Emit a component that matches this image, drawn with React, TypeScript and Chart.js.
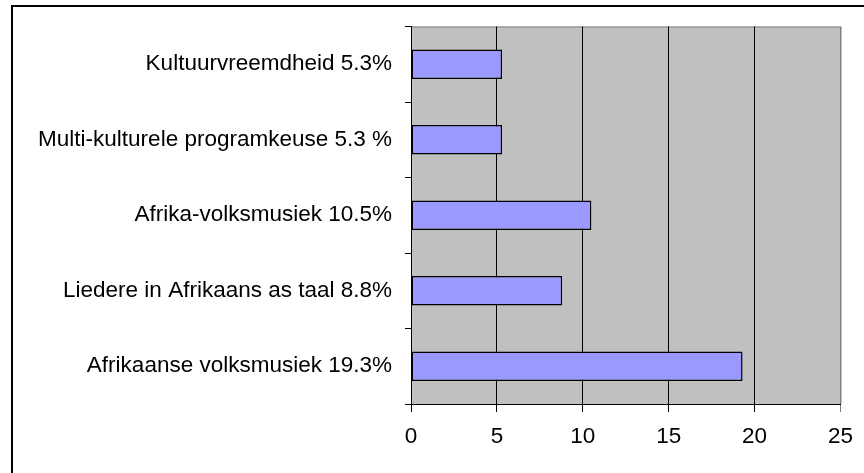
import React, { useEffect, useRef } from "react";
import { Chart, registerables } from "chart.js";

Chart.register(...registerables);

const categories = [
  "Kultuurvreemdheid 5.3%",
  "Multi-kulturele programkeuse 5.3 %",
  "Afrika-volksmusiek 10.5%",
  "Liedere in Afrikaans as taal 8.8%",
  "Afrikaanse volksmusiek 19.3%",
];
const values = [5.3, 5.3, 10.5, 8.8, 19.3];
const xMin = 0;
const xMax = 25;
const xStep = 5;

const FONT = "'Liberation Sans', Arial, Helvetica, sans-serif";

export default function App() {
  const ref = useRef<HTMLCanvasElement | null>(null);

  useEffect(() => {
    if (!ref.current) return;
    const framePlugin = {
      id: "frame",
      beforeDraw(chart: any) {
        const { ctx, chartArea } = chart;
        ctx.save();
        ctx.fillStyle = "#c0c0c0";
        ctx.fillRect(
          chartArea.left,
          chartArea.top,
          chartArea.right - chartArea.left,
          chartArea.bottom - chartArea.top
        );
        ctx.strokeStyle = "#808080";
        ctx.lineWidth = 1;
        ctx.beginPath();
        ctx.moveTo(chartArea.left, chartArea.top + 0.5);
        ctx.lineTo(chartArea.right + 0.5, chartArea.top + 0.5);
        ctx.lineTo(chartArea.right + 0.5, chartArea.bottom);
        ctx.stroke();
        ctx.fillStyle = "#000";
        ctx.fillRect(11, 5, chart.width - 11, 2);
        ctx.fillRect(11, 5, 2, chart.height - 5);
        ctx.restore();
      },
    };
    const chart = new Chart(ref.current, {
      type: "bar",
      data: {
        labels: categories,
        datasets: [
          {
            data: values,
            backgroundColor: "#9999ff",
            borderColor: "#000000",
            borderWidth: 1.5,
            borderSkipped: false,
            barPercentage: 0.39,
            categoryPercentage: 1,
          },
        ],
      },
      options: {
        indexAxis: "y",
        animation: false,
        responsive: false,
        layout: { padding: { top: 24, right: 21, left: 0, bottom: 0 } },
        plugins: {
          legend: { display: false },
          tooltip: { enabled: false },
        },
        scales: {
          x: {
            min: xMin,
            max: xMax,
            ticks: {
              stepSize: xStep,
              color: "#000",
              font: { family: FONT, size: 22.5 },
              padding: 11,
              maxRotation: 0,
            },
            grid: {
              color: (c: any) =>
                c.tick && c.tick.value === xMax ? "#808080" : "#000",
              lineWidth: 1,
              tickLength: 8,
              drawTicks: true,
            },
            border: { display: true, color: "#000", width: 1 },
            afterFit: (s: any) => {
              s.height = 69;
            },
          },
          y: {
            ticks: {
              color: "#000",
              font: { family: FONT, size: 22.5 },
              padding: 13,
            },
            grid: {
              drawOnChartArea: false,
              drawTicks: true,
              tickLength: 6,
              color: "#000",
              offset: true,
            },
            border: { display: true, color: "#000", width: 1 },
            afterFit: (s: any) => {
              s.width = 411;
            },
          },
        },
      },
      plugins: [framePlugin],
    });
    return () => chart.destroy();
  }, []);

  return (
    <canvas
      ref={ref}
      width={864}
      height={473}
      style={{ position: "fixed", left: 0, top: 0, width: 864, height: 473, display: "block", background: "#fff" }}
    />
  );
}
